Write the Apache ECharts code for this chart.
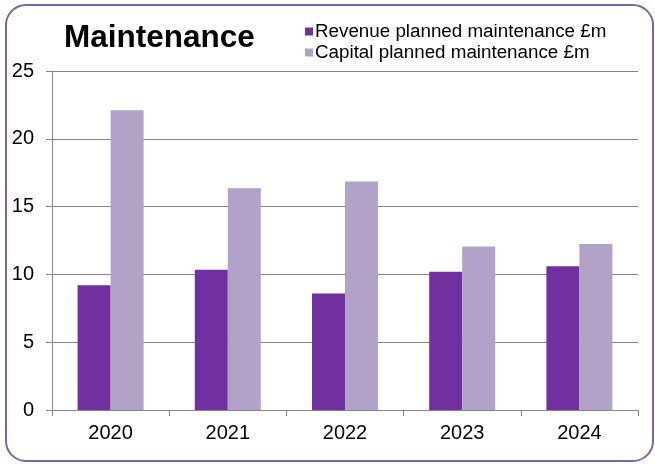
<!DOCTYPE html>
<html>
<head>
<meta charset="utf-8">
<script src="https://cdn.jsdelivr.net/npm/echarts@6/dist/echarts.min.js"></script>
<style>
  html, body { margin: 0; padding: 0; background: #ffffff; }
  #chart { width: 655px; height: 464px; }
</style>
</head>
<body>
<div id="chart"></div>
<script>
// Planned maintenance spend by year (£m)
const years = ['2020', '2021', '2022', '2023', '2024'];
const revenueMaintenance = [9.2, 10.35, 8.6, 10.2, 10.6];
const capitalMaintenance = [22.1, 16.35, 16.85, 12.05, 12.25];
const seriesNames = ['Revenue planned maintenance £m', 'Capital planned maintenance £m'];
const yTicks = { min: 0, max: 25, interval: 5 };

const FONT = '"Liberation Sans", Arial, sans-serif';
const GRID_GREY = '#868686';

const chart = echarts.init(document.getElementById('chart'), null, { renderer: 'canvas' });

chart.setOption({
  animation: false,
  backgroundColor: '#ffffff',
  textStyle: { fontFamily: FONT },
  graphic: [{
    type: 'rect',
    silent: true,
    z: -1,
    shape: { x: 6, y: 5, width: 647, height: 456, r: 20 },
    style: { fill: 'none', stroke: '#8064a2', lineWidth: 2 }
  }],
  title: {
    text: 'Maintenance',
    left: 64,
    top: 22,
    padding: 0,
    textStyle: { fontFamily: FONT, fontSize: 31.5, fontWeight: 'bold', color: '#000000' }
  },
  legend: {
    orient: 'vertical',
    left: 305,
    top: 22,
    padding: 0,
    itemGap: 2,
    itemWidth: 8,
    itemHeight: 8,
    icon: 'rect',
    selectedMode: false,
    data: seriesNames,
    textStyle: { fontFamily: FONT, fontSize: 18.8, color: '#000000', padding: [0, 0, 0, -3] }
  },
  grid: { left: 52, right: 17, top: 71, bottom: 54, containLabel: false },
  xAxis: {
    type: 'category',
    data: years,
    axisLine: { show: true, lineStyle: { color: GRID_GREY, width: 1 } },
    axisTick: { show: true, alignWithLabel: false, length: 6, lineStyle: { color: GRID_GREY } },
    axisLabel: { margin: 13, fontFamily: FONT, fontSize: 20, color: '#000000' },
    splitLine: { show: false }
  },
  yAxis: {
    type: 'value',
    min: yTicks.min,
    max: yTicks.max,
    interval: yTicks.interval,
    axisLine: { show: true, lineStyle: { color: GRID_GREY, width: 1 } },
    axisTick: { show: true, length: 6, lineStyle: { color: GRID_GREY } },
    axisLabel: { margin: 18, fontFamily: FONT, fontSize: 20, color: '#000000' },
    splitLine: { show: true, lineStyle: { color: GRID_GREY, width: 1 } }
  },
  series: [
    {
      name: seriesNames[0],
      type: 'bar',
      data: revenueMaintenance,
      barWidth: 33,
      barGap: '0%',
      itemStyle: { color: '#7030a0' }
    },
    {
      name: seriesNames[1],
      type: 'bar',
      data: capitalMaintenance,
      barWidth: 33,
      barGap: '0%',
      itemStyle: { color: '#b3a2c7' }
    }
  ]
});
</script>
</body>
</html>
